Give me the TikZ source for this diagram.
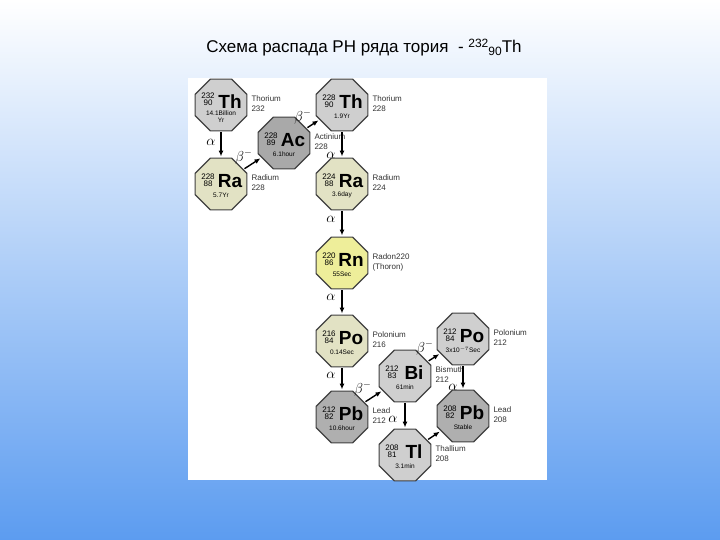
\documentclass[tikz,border=0pt]{standalone}
\usepackage{fontspec}
\setmainfont{Liberation Sans}
\usetikzlibrary{shapes.geometric,arrows.meta}
\definecolor{gTh}{HTML}{CFCFCF}
\definecolor{gAc}{HTML}{A9A9A9}
\definecolor{gRa}{HTML}{E2E2C4}
\definecolor{gRn}{HTML}{EEEE9A}
\definecolor{gPb}{HTML}{AFAFAF}
\definecolor{bgtop}{HTML}{FFFFFF}
\definecolor{bgbot}{HTML}{5C9CF0}
\tikzset{
 oct/.style={regular polygon,regular polygon sides=8,minimum size=56pt,inner sep=0pt,draw=black!75,line width=1.2pt},
 arr/.style={-{Latex[length=6pt,width=5pt]},line width=1.4pt,shorten >=1pt,shorten <=1pt},
 lab/.style={font=\fontsize{14}{14}\selectfont},
 side/.style={anchor=west,align=left,font=\fontsize{8}{10}\selectfont,text=black!80},
 azs/.style={align=center,font=\fontsize{8}{7}\selectfont,inner sep=0pt},
 syms/.style={font=\bfseries\fontsize{19}{19}\selectfont,inner sep=0pt},
 lifes/.style={font=\fontsize{6.5}{6.5}\selectfont,inner sep=0pt},
}
\newcommand{\nuc}[9]{%
 \node[oct,fill=#4] (#1) at (#2,#3) {};
 \node[azs] (#1az) at (#2-13,#3-4) {#5\\#6};
 \node[syms] (#1s) at (#2+9,#3-3) {#7};
 \node[lifes] (#1l) at (#2,#3+11) {#8};
 \node[side] (#1n) at (#2+27,#3-1) {#9};
}
\begin{document}
\begin{tikzpicture}[x=1pt,y=-1pt]
\shade[top color=bgtop,bottom color=bgbot,middle color=bgtop!50!bgbot] (0,0) rectangle (720,540);
\useasboundingbox (0,0) rectangle (720,540);
\fill[white] (188,78) rectangle (547,480);
\node[font=\fontsize{17}{17}\selectfont] (title) at (364,48) {Схема распада РН ряда тория\ \ -\ \raisebox{5pt}{\fontsize{12}{12}\selectfont 232}\raisebox{-3pt}{\fontsize{12}{12}\selectfont 90}Th};
\node[oct,fill=gTh] (thA) at (221,105) {};
\node[azs] (thAaz) at (208,99) {232\\90};
\node[syms] (thAs) at (230,102) {Th};
\node[lifes] (thAl) at (221,113) {14.1Billion};
\node[lifes] (thAy) at (221,120) {Yr};
\node[side] (thAn) at (248,104) {Thorium\\232};
\nuc{thB}{342}{105}{gTh}{228}{90}{Th}{1.9Yr}{Thorium\\228}
\nuc{ac}{284}{143}{gAc}{228}{89}{Ac}{6.1hour}{Actinium\\228}
\nuc{raA}{221}{184}{gRa}{228}{88}{Ra}{5.7Yr}{Radium\\228}
\nuc{raB}{342}{184}{gRa}{224}{88}{Ra}{3.6day}{Radium\\224}
\nuc{rn}{342}{263}{gRn}{220}{86}{Rn}{55Sec}{Radon220\\(Thoron)}
\nuc{poA}{342}{341}{gRa}{216}{84}{Po}{0.14Sec}{Polonium\\216}
\nuc{poB}{463}{339}{gTh}{212}{84}{Po}{3x10$^{-7}$Sec}{Polonium\\212}
\nuc{bi}{405}{376}{gTh}{212}{83}{Bi}{61min}{Bismuth\\212}
\nuc{pbA}{342}{417}{gPb}{212}{82}{Pb}{10.6hour}{Lead\\212}
\nuc{pbB}{463}{416}{gPb}{208}{82}{Pb}{Stable}{Lead\\208}
\nuc{tl}{405}{455}{gTh}{208}{81}{Tl}{3.1min}{Thallium\\208}
\draw[arr] (thA) -- (raA);
\draw[arr] (raA) -- (ac);
\draw[arr] (ac) -- (thB);
\draw[arr] (thB) -- (raB);
\draw[arr] (raB) -- (rn);
\draw[arr] (rn) -- (poA);
\draw[arr] (poA) -- (pbA);
\draw[arr] (pbA) -- (bi);
\draw[arr] (bi) -- (poB);
\draw[arr] (bi) -- (tl);
\draw[arr] (poB) -- (pbB);
\draw[arr] (tl) -- (pbB);
\node[lab] (l1) at (211,142) {$\alpha$};
\node[lab] (l2) at (244,157) {$\beta^-$};
\node[lab] (l3) at (303,117) {$\beta^-$};
\node[lab] (l4) at (331,155) {$\alpha$};
\node[lab] (l5) at (331,219) {$\alpha$};
\node[lab] (l6) at (331,297) {$\alpha$};
\node[lab] (l7) at (331,375) {$\alpha$};
\node[lab] (l8) at (363,389) {$\beta^-$};
\node[lab] (l9) at (425,348) {$\beta^-$};
\node[lab] (l10) at (393,419) {$\alpha$};
\node[lab] (l11) at (453,387) {$\alpha$};
\end{tikzpicture}
\end{document}
